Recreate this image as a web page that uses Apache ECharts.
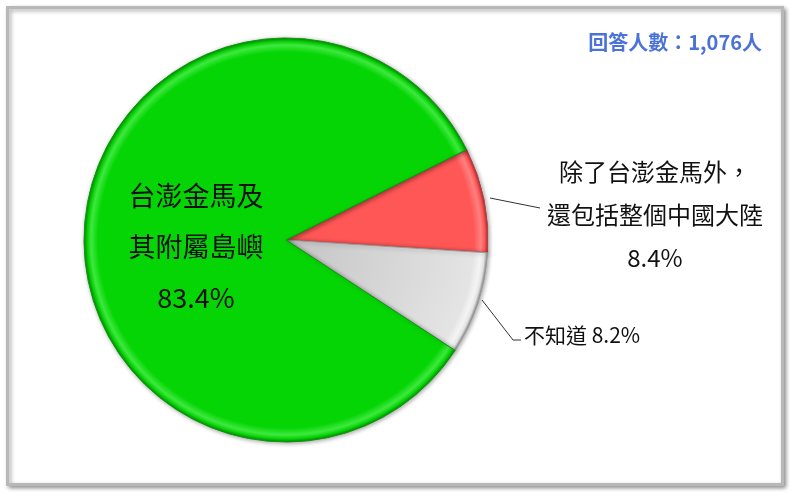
<!DOCTYPE html>
<html>
<head>
<meta charset="utf-8">
<script src="https://cdn.jsdelivr.net/npm/echarts@6/dist/echarts.min.js"></script>
<style>
html,body{margin:0;padding:0;background:#fff;}
#c{width:793px;height:501px;}
</style>
</head>
<body>
<div id="c"></div>
<script>
// ---- data ----
var categories = ['除了台澎金馬外，\n還包括整個中國大陸', '不知道', '台澎金馬及\n其附屬島嶼'];
var values = [8.4, 8.2, 83.4];
var titleText = '回答人數：1,076人';

var CX = 286, CY = 240, R = 202;
var FONT = '"Noto Sans CJK TC", "Noto Sans", sans-serif';

function bevel(base, light, dark, inner) {
  return {
    type: 'radial', x: CX, y: CY, r: R, global: true,
    colorStops: [
      {offset: 0, color: inner || base},
      {offset: 0.93, color: base},
      {offset: 0.965, color: light},
      {offset: 0.985, color: base},
      {offset: 1, color: dark}
    ]
  };
}
var fills = [
  bevel('#ff5656', '#ff8080', '#a83030'),
  bevel('#e4e4e4', '#f4f4f4', '#8c8c8c', '#c4c4c4'),
  bevel('#05d505', '#3fe83f', '#0a8a0a')
];
var borders = ['#b84040', '#9a9a9a', '#0b9a0b'];

var data = values.map(function (v, i) {
  var item = {
    name: categories[i], value: v,
    itemStyle: {color: fills[i], borderColor: borders[i], borderWidth: 1}
  };
  if (i === 2) item.labelLine = {show: false};
  return item;
});

var labelSpec = [
  {x: 655, y: 150, align: 'center', pts: [[490, 198], [515, 203], [540, 208]]},
  {x: 524, y: 335, align: 'left', pts: [[482, 300], [513, 340], [521, 340]]},
  {x: 196, y: 170, align: 'center'}
];

var chart = echarts.init(document.getElementById('c'), null, {renderer: 'canvas'});
chart.setOption({
  backgroundColor: '#ffffff',
  animation: false,
  graphic: [
    {type: 'rect', left: 6, top: 6, z: -10,
      shape: {width: 775, height: 477},
      style: {fill: '#ffffff', stroke: '#b8b8b8', lineWidth: 3,
        shadowBlur: 4, shadowOffsetX: 2, shadowOffsetY: 2, shadowColor: 'rgba(0,0,0,0.35)'}}
  ],
  title: {
    text: titleText, right: 26, top: 27,
    textStyle: {color: '#4a72d8', fontSize: 20, fontWeight: 'bold', fontFamily: FONT}
  },
  series: [{
    type: 'pie',
    center: [CX, CY],
    radius: [0, R],
    startAngle: 26.6,
    clockwise: true,
    data: data,
    itemStyle: {shadowBlur: 4, shadowColor: 'rgba(0,0,0,0.35)', shadowOffsetX: 1, shadowOffsetY: 1},
    label: {
      show: true, position: 'outside', color: '#111', fontFamily: FONT,
      overflow: 'none', width: 400,
      formatter: function (p) {
        if (p.dataIndex === 1) return '{s|' + p.name + ' ' + p.value.toFixed(1) + '%}';
        if (p.dataIndex === 0) return '{m|' + p.name.replace('\n', '}\n{m|') + '}\n{m|' + p.value.toFixed(1) + '%}';
        return '{b|' + p.name.replace('\n', '}\n{b|') + '}\n{b|' + p.value.toFixed(1) + '%}';
      },
      rich: {
        s: {fontSize: 21, fontFamily: FONT, color: '#111'},
        m: {fontSize: 24, lineHeight: 43, fontFamily: FONT, color: '#111', align: 'center'},
        b: {fontSize: 27, lineHeight: 51, fontFamily: FONT, color: '#111', align: 'center'}
      }
    },
    labelLine: {show: true, lineStyle: {color: '#333', width: 1}},
    labelLayout: function (p) {
      var s = labelSpec[p.dataIndex];
      var r = {x: s.x, y: s.y, align: s.align, verticalAlign: 'top'};
      if (p.dataIndex === 1) r.verticalAlign = 'middle';
      if (s.pts) r.labelLinePoints = s.pts;
      return r;
    },
    emphasis: {disabled: true}
  }]
});
</script>
</body>
</html>
